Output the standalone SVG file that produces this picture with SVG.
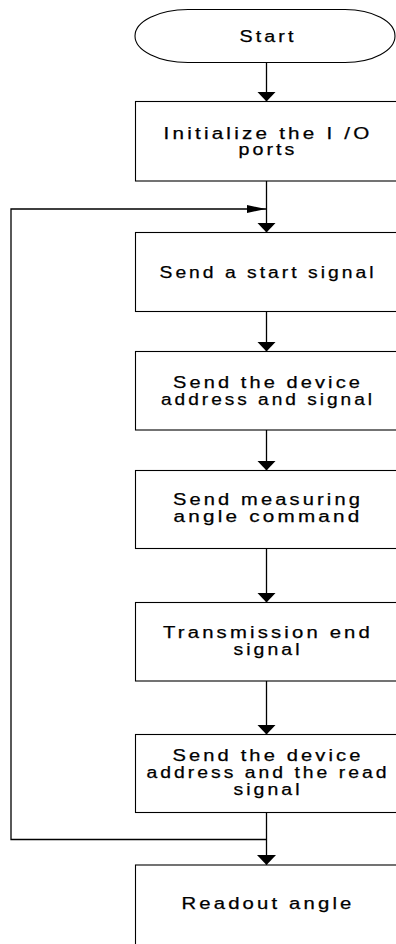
<svg xmlns="http://www.w3.org/2000/svg" width="396" height="944" viewBox="0 0 396 944">
<style>
.n{fill:#fff;stroke:#000;stroke-width:1.1}
.c{fill:none;stroke:#000;stroke-width:1.3}
text{font-family:"Liberation Sans",Arial,sans-serif;font-size:16px;letter-spacing:2.5px;text-anchor:middle;fill:#000;stroke:#000;stroke-width:0.25}
</style>
<defs>
<marker id="ad" viewBox="0 0 10 19" refX="10" refY="9.5" markerWidth="10" markerHeight="19" markerUnits="userSpaceOnUse" orient="auto"><path d="M0,0 L10,9.5 L0,19 Z" fill="#000"/></marker>
<marker id="ar" viewBox="0 0 19 8" refX="19" refY="4" markerWidth="19" markerHeight="8" markerUnits="userSpaceOnUse" orient="auto"><path d="M0,0 L19,4 L0,8 Z" fill="#000"/></marker>
</defs>
<rect width="396" height="944" fill="#fff"/>
<g id="connectors">
<path class="c" d="M266.5,62.5 V101.5" marker-end="url(#ad)"/>
<path class="c" d="M266.5,181 V232.5" marker-end="url(#ad)"/>
<path class="c" d="M266.5,839.5 H11 V209 H266" marker-end="url(#ar)"/>
<path class="c" d="M266.5,311.5 V351.5" marker-end="url(#ad)"/>
<path class="c" d="M266.5,430 V470.5" marker-end="url(#ad)"/>
<path class="c" d="M266.5,548.5 V602.5" marker-end="url(#ad)"/>
<path class="c" d="M266.5,681 V734.5" marker-end="url(#ad)"/>
<path class="c" d="M266.5,812.5 V865" marker-end="url(#ad)"/>
</g>
<g id="start">
<path class="n" d="M188,9.5 H345 A50,26.5 0 0 1 345,62.5 H188 A53,26.5 0 0 1 188,9.5 Z"/>
<text x="268" y="41.5" textLength="57" lengthAdjust="spacingAndGlyphs">Start</text>
</g>
<g id="init">
<rect class="n" x="135.5" y="101.5" width="265" height="79.5"/>
<text x="268" y="138.5" textLength="209" lengthAdjust="spacingAndGlyphs">Initialize the I /O</text>
<text x="268" y="155" textLength="59" lengthAdjust="spacingAndGlyphs">ports</text>
</g>
<g id="startsignal">
<rect class="n" x="135.5" y="232.5" width="265" height="79"/>
<text x="268" y="278" textLength="217" lengthAdjust="spacingAndGlyphs">Send a start signal</text>
</g>
<g id="address">
<rect class="n" x="135.5" y="351.5" width="265" height="78.5"/>
<text x="268" y="388" textLength="190" lengthAdjust="spacingAndGlyphs">Send the device</text>
<text x="268" y="405" textLength="214" lengthAdjust="spacingAndGlyphs">address and signal</text>
</g>
<g id="measure">
<rect class="n" x="135.5" y="470.5" width="265" height="78"/>
<text x="268" y="505" textLength="190" lengthAdjust="spacingAndGlyphs">Send measuring</text>
<text x="268" y="521.5" textLength="189" lengthAdjust="spacingAndGlyphs">angle command</text>
</g>
<g id="transend">
<rect class="n" x="135.5" y="602.5" width="265" height="78.5"/>
<text x="268" y="638" textLength="210" lengthAdjust="spacingAndGlyphs">Transmission end</text>
<text x="268" y="655" textLength="69" lengthAdjust="spacingAndGlyphs">signal</text>
</g>
<g id="readaddr">
<rect class="n" x="135.5" y="734.5" width="265" height="78"/>
<text x="268" y="761" textLength="191" lengthAdjust="spacingAndGlyphs">Send the device</text>
<text x="268" y="778" textLength="243" lengthAdjust="spacingAndGlyphs">address and the read</text>
<text x="268" y="795" textLength="69" lengthAdjust="spacingAndGlyphs">signal</text>
</g>
<g id="readout">
<rect class="n" x="135.5" y="865" width="265" height="90"/>
<text x="268" y="909" textLength="173" lengthAdjust="spacingAndGlyphs">Readout angle</text>
</g>
</svg>
